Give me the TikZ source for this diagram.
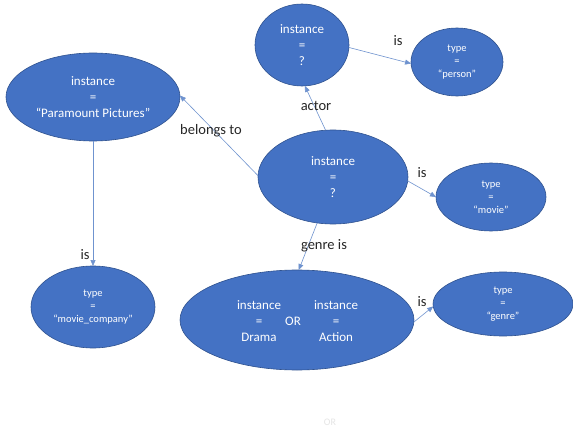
\documentclass[tikz,border=0pt]{standalone}
\usepackage{fontspec}
\setmainfont{Carlito}
\usetikzlibrary{arrows.meta,shapes.geometric}
\definecolor{nodefill}{HTML}{4472C4}
\definecolor{nodeline}{HTML}{2F528F}
\definecolor{edgecol}{HTML}{6F93CF}
\begin{document}
\begin{tikzpicture}[x=1pt,y=-1pt,
  blob/.style n args={2}{ellipse, fill=nodefill, draw=nodeline, line width=0.6pt,
    text=white, align=center, inner sep=0pt, outer sep=0pt,
    minimum width=#1pt, minimum height=#2pt},
  bigtxt/.style={font=\fontsize{13}{16}\selectfont},
  smalltxt/.style={font=\fontsize{10.5}{13}\selectfont},
  edge/.style={draw=edgecol, line width=0.6pt, -{Triangle[length=6pt,width=5pt]}},
  lbl/.style={font=\fontsize{14.5}{16}\selectfont, text=black!85}]
\useasboundingbox (0,0) rectangle (573,433);
\fill[white] (0,0) rectangle (573,433);

% concept nodes
\node[blob={94}{82}, bigtxt] (q1) at (302,45) {instance\\=\\?};
\node[blob={92}{68}, smalltxt] (person) at (457,62) {type\\=\\“person”};
\node[blob={174}{88}, bigtxt] (para) at (93,97) {instance\\=\\“Paramount Pictures”};
\node[blob={150}{94}, bigtxt] (q0) at (333,177) {instance\\=\\?};
\node[blob={110}{68}, smalltxt] (movie) at (491,197) {type\\=\\“movie”};
\node[blob={124}{82}, smalltxt] (mcomp) at (93,307) {type\\=\\“movie\_company”};
\node[blob={234}{100}] (genres) at (297,320) {};
\node[blob={140}{64}, smalltxt] (genre) at (503,304) {type\\=\\“genre”};

% the two alternatives inside the genre node
\node[bigtxt, text=white, align=center] (drama) at (259,321) {instance\\=\\Drama};
\node[bigtxt, text=white] (or) at (293,321) {OR};
\node[bigtxt, text=white, align=center] (action) at (336,321) {instance\\=\\Action};

% relations
\draw[edge] (q0.99) -- (q1.274);
\draw[edge] (q1.357) -- (person.182);
\draw[edge] (q0.179) -- (para.1);
\draw[edge] (q0.357) -- (movie.180);
\draw[edge] (q0.251) -- (genres.88);
\draw[edge] (para.south) -- (mcomp.north);
\draw[edge] (genres.359) -- (genre.182);

% relation labels
\node[lbl] (lactor) at (316,106) {actor};
\node[lbl] (lis1) at (398,41) {is};
\node[lbl] (lbel) at (211,131) {belongs to};
\node[lbl] (lis2) at (422,173) {is};
\node[lbl] (lgen) at (324,246) {genre is};
\node[lbl] (lis3) at (85,255) {is};
\node[lbl] (lis4) at (422,302) {is};

\node[font=\fontsize{10}{12}\selectfont, text=black!10] (faint) at (330,422) {OR};
\end{tikzpicture}
\end{document}
